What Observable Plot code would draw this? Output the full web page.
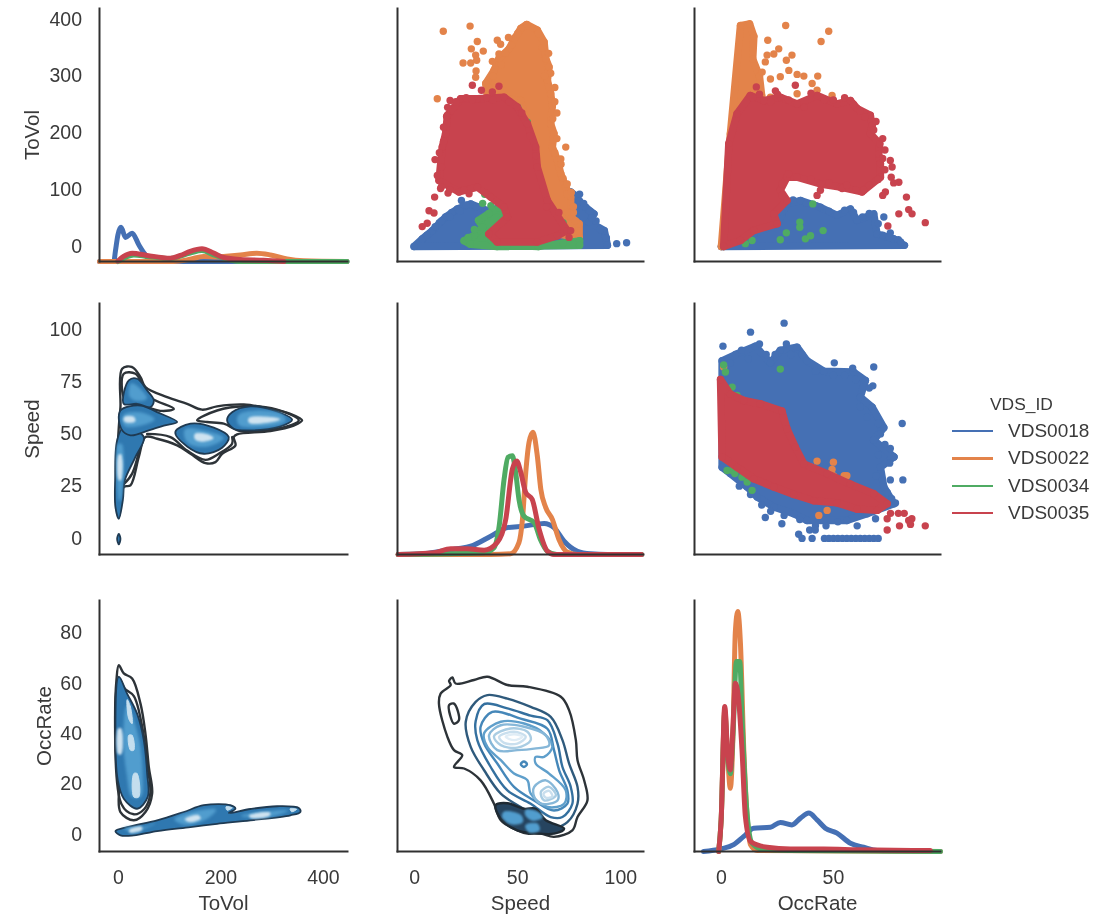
<!DOCTYPE html>
<html><head><meta charset="utf-8">
<script src="https://cdn.jsdelivr.net/npm/d3@7"></script>
<script src="https://cdn.jsdelivr.net/npm/@observablehq/plot@0.6"></script>
<style>
html,body{margin:0;padding:0;background:#fff;width:1113px;height:917px;overflow:hidden}
#chart{position:relative;width:1113px;height:917px;filter:blur(.45px)}
#chart svg{position:absolute;max-width:none;overflow:visible}
#legend{position:absolute;left:0;top:0;font:19px "Liberation Sans",Arial,sans-serif;color:#3a3a3a}
#legend div{position:absolute;white-space:nowrap}
</style></head><body><div id="chart"></div>
<script>
const stations=["VDS0018","VDS0022","VDS0034","VDS0035"];
const colors=["#4570b4","#e3834a","#4fab63","#c8434e"];
const variables=["ToVol","Speed","OccRate"];
const toVolTicks=[0,200,400], speedXTicks=[0,50,100], occXTicks=[0,50];
const toVolYTicks=[0,100,200,300,400], speedYTicks=[0,25,50,75,100], occYTicks=[0,20,40,60,80];
const toVolDomain=[-37,447], speedDomain=[-8.3,111], occDomain=[-12,97.8];
const toVolYDomain=[-26.4,419], speedYDomain=[-7.7,112.4], occYDomain=[-6.8,93];

// Speed (x) vs ToVol (y)
const svBlue=[[-0.3,0],[3.7,13.5],[8.6,28],[15,52],[20.7,66],[27.2,75],[35.3,63],[75.7,96],[79,87],[79,75],[83,69],[87,57.5],[84.6,43],[92,28],[93.5,2]];
const svBluePts=[[98,5],[102.8,6.5],[22.7,81],[24,72],[12,42],[18,60],[80,92],[10,35],[6,20],[13,45],[17,52],[22,62],[25,73],[30,70],[34,60],[80,80],[85,62],[88,45],[90,30],[93,15],[86,50],[82,76]];
const svOrange=[[54.4,391],[59.5,381],[62.8,360],[63.6,331],[65.2,316],[64.4,292.5],[66,269],[66.8,248],[66,216],[67.6,198.5],[66.8,175],[69.3,151.5],[70.9,128],[73.3,104.5],[75.7,87],[75.7,52],[79.8,40],[79.8,16],[69.3,22],[59.5,140],[51.5,257],[35.3,263],[34.5,287],[38.5,310],[40.9,331],[45.8,348],[49,369],[51.5,384]];
const svOrangePts=[[13.9,379],[26.9,388],[30.4,361],[40.1,363],[41.7,356],[45.5,368],[27.5,348],[33.3,344],[29.6,337],[40.9,339],[30.1,328],[23.5,323],[27.2,323],[37.7,326],[29.8,309],[29.6,298],[11,260],[73.3,175],[70.9,154],[74,92],[77,60],[60,375],[62,350],[65,340],[66,305],[63,300],[68,280],[68,255],[69,235],[67,225],[69,190],[68,165],[71,145],[72,120],[74,110],[76,95],[77,70],[74,60],[78,45],[36,280],[38,300],[42,320],[44,340],[47,355],[50,375]];
const svGreen=[[24,10],[29,20],[33,34],[31,46],[36,58],[41,68],[44,50],[40,30],[37,12],[45,2],[60,0],[72,6],[80,10],[80,2],[40,0],[27,4]];
const svGreenPts=[[70,46],[69,52],[72,42],[54.7,219],[58.7,151.5],[50,245],[34,92],[33,76],[37,72],[29,30],[26,16],[46,56]];
const svRed=[[15.9,231],[22.3,260],[30.4,260],[43.4,263],[49.8,245.5],[54.7,216],[58.7,175],[59.5,140],[64.4,81],[74,28],[69.3,19],[59.5,8],[40,8],[36,22],[45,52],[43.4,69],[36.9,87],[30.4,104.5],[21.5,96],[11.8,116],[13.4,175],[15,198.5]];
const svRedPts=[[28,284],[32.4,275],[37.7,272],[40.9,282],[17.2,257],[15.5,229],[9.9,153],[16.2,94],[9.7,87],[12.6,102],[26.4,93],[7,63],[9.4,59],[3.7,35],[6.1,41],[75.7,28],[74.9,16],[64,70],[70,60],[13,140],[11,125],[12,165],[14,185],[14,210],[16,245],[20,255],[25,262],[28,258],[35,262],[38,258],[46,255],[52,235],[56,195],[59,160],[13,105],[17,100],[24,100]];

// OccRate (x) vs ToVol (y)
const ovBlue=[[0,0],[14.4,22],[24.9,40],[29.3,75],[35.3,81],[44.2,69],[51.6,55],[57.6,66],[60.6,46],[68,57.5],[69.5,22],[77,13.5],[81.7,2]];
const ovBluePts=[[72.5,52],[75.4,24],[79,12],[20,35],[27,60],[32,82],[38,76],[42,72],[48,62],[55,64],[59,60],[63,52],[66,58],[70,40],[72,20],[75,16],[80,8]];
const ovOrange=[[0,0],[4,198],[8.5,389],[12.6,392],[14.5,370],[14,330],[17,300],[18,265],[8,100],[1,10]];
const ovOrangePts=[[20.7,363],[28.7,389],[47.9,379],[44.5,361],[25.6,348],[23.4,339],[20.4,337],[19.6,325],[31.5,337],[29,328],[30.1,310],[18.2,307],[21.9,295],[26.3,299],[33.8,303],[36.8,300],[43,300],[40.5,287],[42.7,275],[49.4,266],[21.9,263],[33.8,269]];
const ovRed=[[3.3,181],[7,234],[12.9,266],[18.9,257],[26.3,263],[33.8,251],[42.7,266],[51.6,251],[57.6,257],[60.6,243],[66.5,231],[67.3,213],[66.5,198.5],[70.7,181],[70.2,163],[71,146],[71,122],[62.8,96],[53.1,104.5],[44.2,110],[33.8,122],[29.3,122],[26.3,99],[29.3,81],[23.4,57.5],[24.9,40],[14.4,28],[8.5,10.5],[1,0]];
const ovRedPts=[[15.6,281],[24.1,274],[33,284],[75.4,151.5],[76.2,140],[75.8,122],[79.2,113],[76.9,112],[73.2,96],[72,90],[63.6,99],[53.9,102],[44.2,99],[42.7,90],[82.6,87],[79.2,57.5],[83.6,65],[85.1,57.5],[91,42],[74.3,36],[14,262],[17,268],[22,255],[25,268],[30,258],[37,245],[40,270],[46,258],[50,258],[55,262],[59,250],[62,238],[64,228],[69,220],[68,205],[72,190],[73,170],[72,155],[73,135],[70,118],[66,108],[60,100],[56,108],[48,112],[40,118],[30,128],[27,110],[27,90]];
const ovGreenPts=[[40.8,75],[35,43],[35,34],[45.4,28],[29,24],[26.3,12],[37.5,13.5],[39.8,19],[13.7,10.5],[10.7,5],[4,5],[1,0],[15.3,31]];

// OccRate (x) vs Speed (y)
const osBlue=[[0.3,85],[6.3,88],[15.2,92],[21.9,84],[26.3,90],[33.8,91.5],[38.2,85],[45.7,80],[59,79.6],[64.3,75.6],[62,67.6],[67.3,62.8],[72.5,53],[68,47],[77,39],[71,34],[72.5,24.6],[77,16.6],[65,11.8],[56,8.6],[45.7,8.6],[38.2,8.6],[32.3,11.8],[23.4,15],[16,19.8],[11.5,24.6],[4,31],[0.3,34]];
const osBluePts=[[28,103],[13,98.7],[0.7,92],[68,82],[50.4,84],[58.6,81.5],[67.6,73],[80.7,55],[75.4,43],[77,39],[75.1,36],[81,28],[75.4,28],[77.7,17],[19.6,10],[27,7],[34.5,2],[39.4,4],[41.9,4],[46.7,6],[60.6,6],[68.8,9.4],[36,0],[40.5,0],[46,0],[48,0],[50,0],[52,0],[54,0],[56,0],[58,0],[60,0],[62,0],[64,0],[66,0],[68,0],[70,0],[2,80],[4,84],[9,90],[12,86],[17,93],[20,88],[24,88],[29,93],[31,88],[36,88],[42,80],[50,78],[55,78],[60,76],[66,72],[62,63],[65,58],[70,55],[71,50],[73,45],[70,40],[69,30],[74,22],[76,19],[70,14],[52,8],[42,6],[35,9],[28,11],[22,13],[18,16],[13,21],[8,25]];
const osRed=[[-0.4,76],[4,69],[10,66],[17.4,64.4],[27,61],[29.3,52.5],[33,43.7],[36.8,35.7],[47.2,31],[57.6,26],[68,21.4],[74,16.6],[69.5,13.4],[60.6,14],[51.6,17],[41.2,18],[32.3,21],[23.4,24.6],[14.4,28.5],[7,34],[0.3,39]];
const osRedPts=[[75.5,12],[74,9.4],[79,12],[81.6,12],[85,9.4],[83.6,8.6],[84.4,6.7],[79.5,6],[74,4],[91,6]];
const osOrangePts=[[1,82],[42.7,37],[50,36.5],[49.4,33],[54.8,30],[56,30],[50,30],[40.5,34],[39,32.5],[47.2,13.4],[43.5,11],[10,66],[19.6,59],[16.6,55.7]];
const osGreenPts=[[1,83],[1.8,79.6],[4.8,72.4],[7,68.4],[13,63.6],[26.3,81],[33.8,39.7],[32.3,44.5],[4.8,32.5],[2.5,32.5],[9.2,29.3],[11.5,27],[13.7,23],[10,31],[6,31]];

// diagonal densities, on a 0-100 share of the panel height
const dTV=[[[-37,0],[-9,0],[-6,4],[-1,10.6],[5,13.5],[13.7,9.5],[26.7,11.2],[39.7,6.6],[52.7,2.6],[65.7,.3],[108,0],[446,0]],
 [[-37,0],[0,0],[108,0],[140,.9],[166,2],[192.5,1.8],[205,2],[238,2.6],[270,3.3],[296.6,2.6],[329,1],[361,.3],[446,0]],
 [[-1,0],[30,2.6],[56,2],[101,1.2],[140,3.3],[163,4.3],[186,2.6],[238,0],[446,0]],
 [[-1,.2],[10,2],[26.7,3.3],[56,2.4],[101,1.3],[121,2.4],[140,4],[163,5],[186,3.3],[205,1.6],[238,.8],[283,.5],[323,0]]];
const dSP=[[[-8,0],[4.5,.3],[12.6,1.3],[20.7,2.3],[27.2,3.3],[36.9,7.3],[45,10.7],[53,11.3],[62.8,12.4],[67.6,10.7],[72.5,5.3],[79,1.3],[85.4,.3],[93.5,0],[110,0]],
 [[-8,0],[37,0],[46.6,.3],[50.6,4.7],[52.3,14],[53.9,32.7],[55.5,44.7],[57.4,48.7],[59.5,39.3],[61.2,26],[63.6,18.7],[66.8,14],[70,6],[74,1],[79,0],[110,0]],
 [[-8,0],[33.7,.7],[38.5,2.7],[41,11.3],[43.4,30],[45.3,38.7],[47.4,39.3],[49,32.7],[50.6,22],[53,15.3],[58,12.7],[61,6],[64.4,1.3],[69,0],[110,0]],
 [[-8,0],[9.4,.7],[17.5,2.3],[25.6,2.3],[33.7,1.7],[40,4.7],[44.2,14],[47.4,34],[49.5,37.3],[51.5,32.7],[53.9,24.7],[57,22],[60.4,10],[64.4,1.3],[67.6,0],[110,0]]];
const dOC=[[[-8,0],[-0.4,1],[5.5,2.7],[10,6],[14.4,9.3],[21.9,9.7],[26.3,11.6],[31.5,10.6],[35.3,13.3],[39,15.3],[42.7,12.6],[46.4,9.3],[51.6,7.3],[57.6,3.3],[63.5,1.7],[69.5,.4],[97.8,0]],
 [[-1.2,0],[-0.1,12.6],[1.5,56.4],[2.8,37.8],[4,25.2],[5.2,47],[6.2,87],[7.3,95.6],[8.5,83],[10,40.5],[11.5,14],[13,2.7],[16,.4],[97.8,0]],
 [[-1.2,0],[-0.1,12.6],[1.5,55],[2.8,37.8],[4,31],[5.2,47],[6.7,75.7],[8.2,75.7],[9.2,53.8],[11.2,18],[13.7,3.3],[18,1],[30,.4],[97.8,0]],
 [[-1.2,0],[-0.1,12.6],[1.5,57.8],[2.8,39],[4,32.5],[5.2,50],[6.2,67],[7.7,60.4],[9.2,40.5],[10.7,14],[13,4],[20.4,1.7],[30.8,1],[45.7,1],[60.6,.7],[93.3,.4]]];

// contour colours, outer to inner
const dark="#2d3338", shades=["#2d3338","#2f5a7c","#34709f","#4587b9","#5f9fcb","#86b7d8","#aacde3","#c9dfee","#e0edf6"];
const fillDeep="#2f78b0", fillMid="#519dce", fillCore="#cfe3f0", edge="#1f3a52", fillSliver="#c4deee";

// ToVol (x) vs Speed (y) density contours
const tsOutline=[[7.2,81.2],[26.7,82],[43,77.2],[52.7,72.4],[95,67.6],[134,64.4],[163,61.6],[192.5,63.2],[244.6,64.1],[296.6,62],[335.6,59.6],[358.4,56.5],[342,54],[296.6,51.4],[231.5,49.8],[225,48.5],[228.3,44.5],[202.3,40.5],[189.3,36.5],[169.8,36],[140.5,40.5],[114.5,44.5],[75.4,47.7],[52.7,48.5],[39.7,39],[23.4,25.4],[10.4,24.6],[.7,10.2],[-3.9,15],[-3.9,31],[.7,53.3],[3.9,62.8]];
const tsLines=[[[10.4,78.8],[33.2,78.8],[46.2,74],[61.1,67.6],[108,62],[85.2,61],[56,62.8],[13.7,66]],
 [[153.5,56.5],[192.5,61.2],[244.6,63.2],[309.6,61.6],[352,56.5],[329,53.6],[238,51.4],[205.5,54.9],[173,55.7]]];
const tsOpen=[[[56,50],[101.5,48.5],[134,42],[170,37.6],[195.8,40.5],[221.8,45.3],[221.8,48.5]],[[10.4,26],[26.7,31],[46.2,48.5]]];
const tsFills=[[[.7,9.4],[8.5,18.2],[12.4,27.8],[33.2,39],[49.4,48.5],[10.4,53.3],[-2.6,46.9],[-6.5,27.8],[-5.9,15]],
 [[3.9,61.2],[43,63.6],[75.4,60.4],[114.5,55.7],[88.5,54],[59.2,51.7],[23.4,49.3],[5.2,52.5]],
 [[10.4,64.4],[20.2,75.6],[36.4,76.4],[56,70.8],[69,66],[62.4,62.8],[36.4,64.4]],
 [[111,50.9],[140.5,54.9],[186,53],[215.3,48.5],[202.3,43.4],[166.5,40.5],[134,44]],
 [[221.8,60.4],[257.6,63.2],[303,61.2],[338.9,56.8],[316,53.6],[257.6,51.7],[225,52.5],[212,56.5]],
 [[-2.6,-.2],[.7,2.2],[3.9,-.2],[.7,-2.9]]];
const tsMids=[[[25,74],[40,72],[55,67],[35,66],[22,68]],[[10,59],[45,60],[70,57],[40,54],[12,54]],
 [[130,52],[175,51],[205,48],[170,44],[135,46]],[[235,59],[275,61],[320,59],[325,56],[280,53.5],[235,54.5]],[[0,45],[6,45],[6,22],[2,18],[-2,30]]];
const tsCores=[[[150,50],[175,49.5],[185,48],[165,46.5],[150,47.5]],[[255,57.5],[290,58],[315,57],[290,55.5],[255,55.5]],[[1,40],[5,40],[4.5,28],[1,28]],[[12,58],[30,58],[32,56],[12,56]]];

// ToVol (x) vs OccRate (y) density contours
const toOutline=[[.7,67.3],[10.4,64],[26.7,62],[43,52],[52.7,40],[59.2,26.8],[65.7,16.2],[52.7,8.9],[30,5.6],[3.9,8.9],[.7,18.9],[-5.9,37.5],[-3.9,61.4]];
const toOutline2=[[.7,62],[12,58],[30,55],[47,42],[56,28],[62,16],[50,10],[30,8],[6,12]];
const toFills=[[[.7,62.7],[16.9,56],[36.4,48],[49.4,37.5],[56,24.2],[57.2,14.9],[36.4,10.2],[10.4,14.2],[-1.3,21.5],[-5.9,37.5]],
 [[-5.9,1.3],[16.9,2.9],[75.4,5.6],[127.5,8.9],[166.5,11.6],[218.5,11.6],[228.3,10.2],[215.3,8.5],[257.6,10.1],[309.6,11.2],[351.9,10.5],[355,8.9],[335.6,7.6],[257.6,5.6],[192.5,4.2],[140.5,2.9],[75.4,1.3],[30,-.4],[3.9,-.4]]];
const toMids=[[[16.9,51],[39.7,37.5],[46.2,24],[42.9,15],[26.7,15],[16.9,24],[10.4,37.5]],[[12,2.4],[55,3],[70,4.4],[30,.9]],[[110,6],[150,9],[190,9.8],[170,6],[130,4]],[[240,7.4],[290,9],[330,9.4],[290,7]]];
const toCores=[[[0,42],[5,42],[5,32],[0,32]],[[22,1.8],[45,2.9],[45,1.8],[22,.9]],[[130,6],[155,7.6],[160,6.4],[140,5]],[[255,7.4],[295,8.6],[295,7.6],[260,6.6]]];
const toSlivers=[[[20,39.4],[26.7,39.4],[30,33.5],[23.4,33.5]],[[30,24.2],[36.4,24.2],[39.7,14.9],[30,14.9]],[[17,53.6],[23.4,50.7],[26.7,44],[20,46]],[[210,11],[222,10.6],[212,9.6]],[[335,10.2],[348,10],[338,9]]];

// Speed (x) vs OccRate (y) density contours, outer to inner
const soLevels=[
 [[16.7,61],[18.3,62.4],[19.9,60],[28.8,61.4],[35.3,62.7],[45,59.4],[54.7,58.7],[70.9,54.7],[74.9,49.4],[78.2,37.5],[79,29.5],[82.2,21.5],[83.8,13.5],[79,6.9],[76.5,1.6],[67.6,-1],[61.2,.3],[54.7,.3],[49.8,1.6],[41.8,5.6],[38.5,12.2],[32,21.5],[24,26.2],[19.1,26.8],[23.1,31.5],[19.1,33.5],[15.9,38.8],[11.8,52],[12.6,56],[17.5,59.4]],
 [[24.8,44.8],[29.6,52.7],[35.3,55.4],[45,54],[56.3,50.7],[66,46.7],[71.7,37.5],[74.9,28.2],[79,18.9],[79,12.2],[74.1,4.9],[67.6,2.9],[51.4,10.9],[41.8,16.2],[33.7,25.5],[27.2,34.8]],
 [[29.6,45],[33.7,51.8],[45,50.1],[56.3,47.2],[64.4,45.4],[69.3,36.1],[71.7,26.8],[75.7,18.9],[76.5,12.2],[71.7,6.9],[66,6.9],[56.3,12.2],[45,17.5],[36.9,26.8],[30.4,37.5]],
 [[32,42.8],[37.7,48.7],[51.4,46],[64.4,42],[67.6,33.5],[70.1,25.5],[74.1,17.5],[74.1,12.2],[67.6,9.5],[57.9,13.5],[48.2,18.9],[40.1,28.2],[33.7,36.1]],
 [[33.7,40.2],[41.8,44.8],[53.1,44.1],[62.8,40.1],[66.8,34.8],[62.8,30.8],[58.7,30.8],[58.7,28.2],[65.2,24.2],[73.3,17.5],[72.5,12.2],[64.4,10.9],[56.3,16.2],[54.7,21.5],[48.2,24.2],[41.8,29.5],[35.3,34.8]],
 [[36.1,39.4],[41.8,43.4],[53.1,42.8],[63.6,39.4],[65.2,35.4],[58,34.1],[49.8,33.5],[40.1,33.5]],
 [[38.5,39],[46.6,42.1],[54.7,40.8],[56.3,37.5],[49.8,34.5],[41.8,35.5]],
 [[41,38.8],[48.2,40.8],[53.9,38.8],[49.8,36.1],[43.4,36.4]],
 [[44.2,38.8],[48.2,39.8],[52.3,38.8],[48.2,37.5]]];
const soIsland=[[16.7,51.4],[19.1,52],[21.5,45.4],[19.1,44],[17.2,47.4]];
const soSmall=[[51.5,27.9],[53,29],[54.5,27.9],[53,26.8]];
const soLower=[[[58,18.9],[63.6,21.5],[69.3,16.8],[69.3,13.5],[61.2,12.2],[58,15]],[[61.2,16.8],[65.2,18.9],[68.5,15.5],[62.8,13.5]],[[62.5,16.2],[65.2,17.3],[66.8,15.1],[63.6,14.6]]];
const soDark=[[39.3,11.6],[45,12.4],[53.1,10.2],[58.7,10.2],[63.6,5.6],[72.5,2.3],[67.6,.3],[57.9,.5],[49.8,1.6],[41.8,6.2]];
const soBlobs=[[[43.4,8.9],[51.5,7.6],[52.3,4.9],[46.6,4.2],[42.6,6.9]],[[53.9,9.6],[59.5,8.9],[62,6.9],[57.1,5.6],[53.9,7.6]],[[53.9,3.6],[59.5,4.2],[60.4,1.6],[55.5,.9]]];

// ---- mark helpers ----
const fx=d=>d[0], fy=d=>d[1];
const DOT=3.7;
const blob=(pts,c)=>[Plot.line(pts,{x:fx,y:fy,curve:"linear-closed",fill:c,stroke:c,strokeWidth:DOT*2}),Plot.dot(pts,{x:fx,y:fy,r:DOT,fill:c})];
const dots=(pts,c)=>Plot.dot(pts,{x:fx,y:fy,r:DOT,fill:c});
const ring=(pts,c,w=2.4)=>Plot.line(pts,{x:fx,y:fy,curve:"catmull-rom-closed",stroke:c,strokeWidth:w});
const open=(pts,c,w=2.4)=>Plot.line(pts,{x:fx,y:fy,curve:"catmull-rom",stroke:c,strokeWidth:w});
const fillPoly=(pts,c,s=null,w=1.2)=>Plot.line(pts,{x:fx,y:fy,curve:"catmull-rom-closed",fill:c,stroke:s||c,strokeWidth:w});
const softPoly=(pts,c,b)=>Plot.line(pts,{x:fx,y:fy,curve:"catmull-rom-closed",fill:c,stroke:c,strokeWidth:1,
  render:(i,s,v,d,ctx,next)=>{const g=next(i,s,v,d,ctx); g.style.filter=`blur(${b}px)`; return g;}});

const cols=[{left:99,w:248,domain:toVolDomain,ticks:toVolTicks},{left:397,w:246,domain:speedDomain,ticks:speedXTicks},{left:694,w:246,domain:occDomain,ticks:occXTicks}];
const rows=[{top:8,h:253,domain:toVolYDomain,ticks:toVolYTicks,labelOffset:75},{top:303,h:251,domain:speedYDomain,ticks:speedYTicks,labelOffset:75},{top:600,h:251,domain:occYDomain,ticks:occYTicks,labelOffset:63}];
const density=(series,r)=>{const D=rows[r].domain;return series.map((pts,i)=>Plot.line(pts,{x:fx,y:d=>D[0]+d[1]/100*(D[1]-D[0]),stroke:colors[i],strokeWidth:5,curve:"monotone-x"}));};
const chart=document.getElementById("chart");

function panel(r,c,marks){
  const C=cols[c],R=rows[r];
  const mL=c===0?99:10, mB=r===2?66:10, mT=8, mR=10;
  const extra=[Plot.frame({anchor:"left",stroke:"#303030",strokeWidth:2}),Plot.frame({anchor:"bottom",stroke:"#303030",strokeWidth:2})];
  if(r===2) extra.push(Plot.axisX({ticks:C.ticks,tickSize:0,tickPadding:19,label:variables[c],labelAnchor:"center",labelArrow:"none",labelOffset:58,tickFormat:d=>String(d)}));
  if(c===0) extra.push(Plot.axisY({ticks:R.ticks,tickSize:0,tickPadding:17.5,label:variables[r],labelAnchor:"center",labelArrow:"none",labelOffset:R.labelOffset,tickFormat:d=>String(d)}));
  const svg=Plot.plot({width:C.w+mL+mR,height:R.h+mT+mB,marginLeft:mL,marginRight:mR,marginTop:mT,marginBottom:mB,
    style:{fontFamily:'"Liberation Sans",Arial,sans-serif',fontSize:"19.5px",color:"#3a3a3a",background:"transparent",overflow:"visible"},
    x:{domain:C.domain,axis:null},y:{domain:R.domain,axis:null},marks:[...marks,...extra]});
  svg.querySelectorAll('[aria-label$="axis label"]').forEach(g=>{g.style.fontSize="20.5px";});
  svg.style.left=(C.left-mL)+"px"; svg.style.top=(R.top-mT)+"px";
  chart.appendChild(svg);
}

panel(0,0,density(dTV,0));
panel(1,1,density(dSP,1));
panel(2,2,density(dOC,2));

panel(0,1,[blob(svBlue,colors[0]),dots(svBluePts,colors[0]),blob(svOrange,colors[1]),dots(svOrangePts,colors[1]),blob(svGreen,colors[2]),dots(svGreenPts,colors[2]),blob(svRed,colors[3]),dots(svRedPts,colors[3])]);
panel(0,2,[blob(ovBlue,colors[0]),dots(ovBluePts,colors[0]),blob(ovOrange,colors[1]),dots(ovOrangePts,colors[1]),dots(ovGreenPts,colors[2]),blob(ovRed,colors[3]),dots(ovRedPts,colors[3])]);
panel(1,2,[blob(osBlue,colors[0]),dots(osBluePts,colors[0]),dots(osOrangePts,colors[1]),dots(osGreenPts,colors[2]),blob(osRed,colors[3]),dots(osRedPts,colors[3])]);

panel(1,0,[ring(tsOutline,dark),...tsLines.map(p=>ring(p,dark)),...tsOpen.map(p=>open(p,dark)),
  ...tsFills.map(p=>fillPoly(p,fillDeep,edge,1.8)),...tsMids.map(p=>softPoly(p,fillMid,1.5)),...tsCores.map(p=>softPoly(p,fillCore,1.2))]);
panel(2,0,[ring(toOutline,dark),ring(toOutline2,dark),...toFills.map(p=>fillPoly(p,fillDeep,edge,1.8)),...toMids.map(p=>softPoly(p,fillMid,1.5)),...toCores.map(p=>softPoly(p,fillCore,1.2)),...toSlivers.map(p=>softPoly(p,fillSliver,.6))]);
panel(2,1,[...soLevels.map((p,i)=>ring(p,shades[i])),ring(soIsland,dark),ring(soSmall,shades[3]),...soLower.map((p,i)=>ring(p,shades[5+i])),
  fillPoly(soDark,"#26445f","#1f2a33",2.4),...soBlobs.map(p=>softPoly(p,fillMid,.8))]);

// legend
const legend=document.createElement("div"); legend.id="legend";
const title=document.createElement("div"); title.textContent="VDS_ID"; title.style.cssText="left:990px;top:394px;font-size:17.4px";
legend.appendChild(title);
stations.forEach((s,i)=>{
  const y=431+i*27.4;
  const sw=document.createElement("div"); sw.style.cssText=`left:952px;top:${y-1.2}px;width:41px;height:2.4px;background:${colors[i]}`;
  const t=document.createElement("div"); t.textContent=s; t.style.cssText=`left:1008px;top:${y-11}px`;
  legend.append(sw,t);
});
chart.appendChild(legend);
</script></body></html>
